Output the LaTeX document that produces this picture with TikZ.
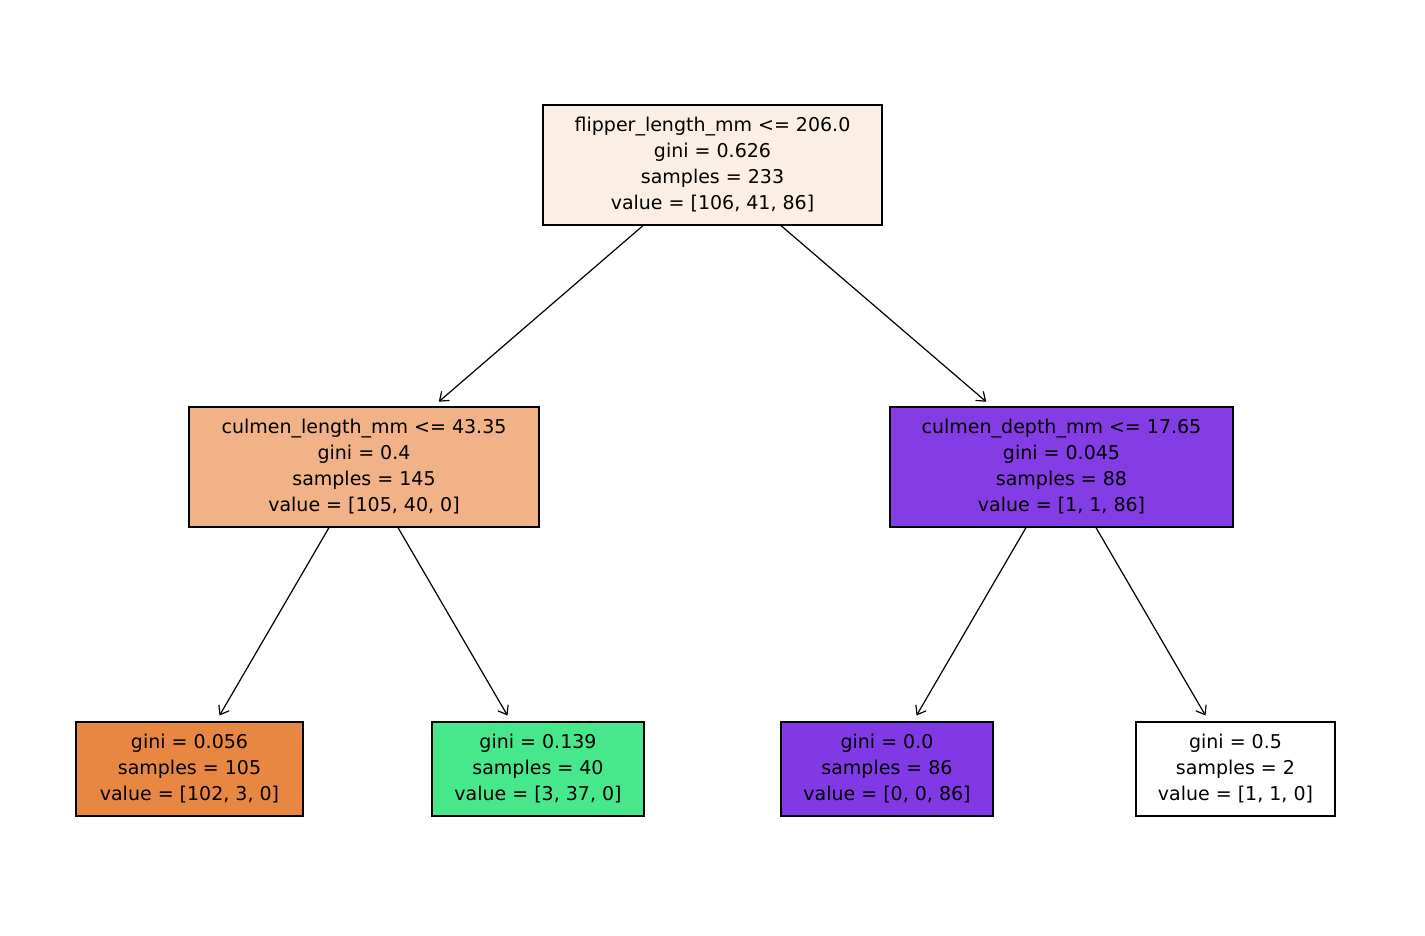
\documentclass[tikz,border=0pt]{standalone}
\usepackage{fontspec}
\setmainfont{DejaVu Sans}
\usetikzlibrary{arrows.meta,calc}
\definecolor{croot}{HTML}{FBEEE4}
\definecolor{cleft}{HTML}{F0B286}
\definecolor{cright}{HTML}{843CE5}
\definecolor{corange}{HTML}{E88741}
\definecolor{cgreen}{HTML}{47E78B}
\definecolor{cpurple}{HTML}{8139E5}
\begin{document}
\begin{tikzpicture}[x=1pt,y=1pt,
  box/.style={draw=black,line width=1.2pt,align=center,inner sep=0pt,font=\fontsize{19}{26}\selectfont},
  edge/.style={line width=1.2pt,-{Straight Barb[length=8pt,width=12pt,line width=1.2pt]},shorten >=1pt}]
\useasboundingbox (0,0) rectangle (1425,-935);
\node[box,fill=croot,minimum width=339,minimum height=120] (root) at (712.5,-165) {flipper\_length\_mm <= 206.0\\gini = 0.626\\samples = 233\\value = [106, 41, 86]};
\node[box,fill=cleft,minimum width=350,minimum height=120] (l) at (364,-467) {culmen\_length\_mm <= 43.35\\gini = 0.4\\samples = 145\\value = [105, 40, 0]};
\node[box,fill=cright,minimum width=343,minimum height=120] (r) at (1061.5,-467) {culmen\_depth\_mm <= 17.65\\gini = 0.045\\samples = 88\\value = [1, 1, 86]};
\node[box,fill=corange,minimum width=227,minimum height=94] (l1) at (189.5,-769) {gini = 0.056\\samples = 105\\value = [102, 3, 0]};
\node[box,fill=cgreen,minimum width=212,minimum height=94] (l2) at (538,-769) {gini = 0.139\\samples = 40\\value = [3, 37, 0]};
\node[box,fill=cpurple,minimum width=212,minimum height=94] (l3) at (887,-769) {gini = 0.0\\samples = 86\\value = [0, 0, 86]};
\node[box,fill=white,minimum width=199,minimum height=94] (l4) at (1235.5,-769) {gini = 0.5\\samples = 2\\value = [1, 1, 0]};
\draw[edge] ($(root.south)+(-69.5,0)$) -- ($(l.north)+(74,4)$);
\draw[edge] ($(root.south)+(68.5,0)$) -- ($(r.north)+(-74.5,4)$);
\draw[edge] ($(l.south)+(-35,0)$) -- ($(l1.north)+(29.5,5)$);
\draw[edge] ($(l.south)+(34,0)$) -- ($(l2.north)+(-30,5)$);
\draw[edge] ($(r.south)+(-35.5,0)$) -- ($(l3.north)+(29,5)$);
\draw[edge] ($(r.south)+(34.5,0)$) -- ($(l4.north)+(-29.5,5)$);
\end{tikzpicture}
\end{document}
